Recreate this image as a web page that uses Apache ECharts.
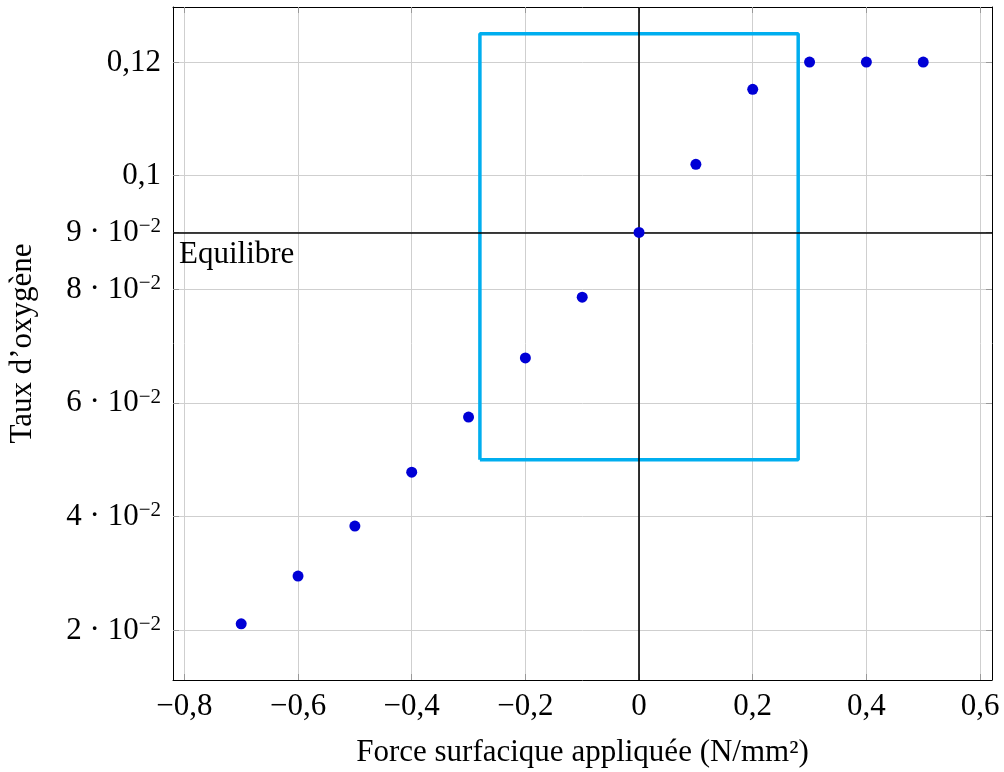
<!DOCTYPE html>
<html><head><meta charset="utf-8">
<script src="https://cdn.jsdelivr.net/npm/echarts@6/dist/echarts.min.js"></script>
<style>html,body{margin:0;padding:0;background:#fff}#c{width:1004px;height:772px}</style>
</head><body><div id="c"></div>
<script>
const xValues = [-0.7, -0.6, -0.5, -0.4, -0.3, -0.2, -0.1, 0, 0.1, 0.2, 0.3, 0.4, 0.5];
const yValues = [0.0211, 0.0295, 0.0383, 0.0478, 0.0575, 0.0679, 0.0786, 0.09, 0.102, 0.1152, 0.12, 0.12, 0.12];
const xTicks = [-0.8, -0.6, -0.4, -0.2, 0, 0.2, 0.4, 0.6];
const yTicks = [0.02, 0.04, 0.06, 0.08, 0.09, 0.1, 0.12];
const yTickLabels = ['{m|2 · 10}{s|−2}', '{m|4 · 10}{s|−2}', '{m|6 · 10}{s|−2}', '{m|8 · 10}{s|−2}', '{m|9 · 10}{s|−2}', '{m|0,1}', '{m|0,12}'];
const boxX = [-0.28, -0.28, 0.28, 0.28, -0.28];
const boxY = [0.05, 0.125, 0.125, 0.05, 0.05];
const equilibreY = 0.09;
const equilibreX = 0;
const xTitle = 'Force surfacique appliquée (N/mm²)';
const yTitle = 'Taux d’oxygène';
const eqLabel = 'Equilibre';

const FONT = 'Liberation Serif';
const FS = 31;
const fmtX = v => {
  if (Math.abs(v) < 1e-9) return '0';
  return (v < 0 ? '−' : '') + Math.abs(v).toFixed(1).replace('.', ',');
};
const fmtY = v => {
  const i = yTicks.findIndex(t => Math.abs(t - v) < 1e-9);
  return i >= 0 ? yTickLabels[i] : '';
};
const richY = {
  m: {fontFamily: FONT, fontSize: FS, color: '#000', lineHeight: 32, verticalAlign: 'bottom'},
  s: {fontFamily: FONT, fontSize: 21, color: '#000', lineHeight: 32, verticalAlign: 'top', padding: [0, 0, 6, 0]}
};
const tickStyle = {show: true, inside: true, length: 6, lineStyle: {color: '#999', width: 1}};
const gridLine = {show: true, lineStyle: {color: '#cfcfcf', width: 1}};
const blackAxis = {show: true, onZero: false, lineStyle: {color: '#000', width: 1}};

const chart = echarts.init(document.getElementById('c'));
chart.setOption({
  animation: false,
  backgroundColor: '#fff',
  grid: {left: 173, top: 7, right: 12, bottom: 92, containLabel: false, outerBoundsMode: 'none'},
  xAxis: [{
    type: 'value', min: -0.82, max: 0.621, position: 'bottom',
    axisLine: blackAxis,
    axisTick: Object.assign({customValues: xTicks}, tickStyle),
    axisLabel: {customValues: xTicks, formatter: fmtX, fontFamily: FONT, fontSize: FS, color: '#000', margin: 11},
    splitLine: gridLine,
    name: xTitle, nameLocation: 'middle', nameGap: 57,
    nameTextStyle: {fontFamily: FONT, fontSize: FS, color: '#000'}
  }, {
    type: 'value', min: -0.82, max: 0.621, position: 'top',
    axisLine: blackAxis,
    axisTick: Object.assign({customValues: xTicks}, tickStyle),
    axisLabel: {show: false}, splitLine: {show: false}
  }],
  yAxis: [{
    type: 'value', min: 0.0112, max: 0.1297, position: 'left',
    axisLine: blackAxis,
    axisTick: Object.assign({customValues: yTicks}, tickStyle),
    axisLabel: {customValues: yTicks, formatter: fmtY, rich: richY, margin: 12},
    splitLine: gridLine,
    name: yTitle, nameLocation: 'middle', nameGap: 135, nameRotate: 90,
    nameTextStyle: {fontFamily: FONT, fontSize: FS, color: '#000'}
  }, {
    type: 'value', min: 0.0112, max: 0.1297, position: 'right',
    axisLine: blackAxis,
    axisTick: Object.assign({customValues: yTicks}, tickStyle),
    axisLabel: {show: false}, splitLine: {show: false}
  }],
  series: [{
    type: 'line', silent: true, z: 2,
    data: boxX.map((x, i) => [x, boxY[i]]),
    symbol: 'none',
    lineStyle: {color: '#00AEEF', width: 3.5},
    markLine: {
      silent: true, symbol: 'none', z: 3,
      lineStyle: {color: '#000', width: 1.6, type: 'solid'},
      data: [
        {yAxis: equilibreY, label: {show: true, formatter: eqLabel, position: 'insideStartBottom', distance: [6, 7], fontFamily: FONT, fontSize: FS, color: '#000'}},
        {xAxis: equilibreX, label: {show: false}}
      ]
    }
  }, {
    type: 'scatter', z: 5,
    data: xValues.map((x, i) => [x, yValues[i]]),
    symbol: 'circle', symbolSize: 11,
    itemStyle: {color: '#0000D6', opacity: 1}
  }]
});
</script></body></html>
